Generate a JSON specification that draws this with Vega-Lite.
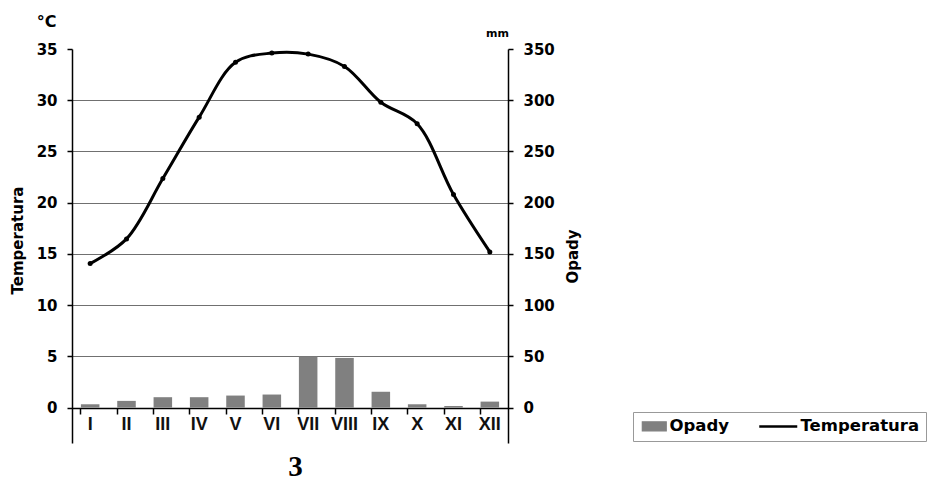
{
  "$schema": "https://vega.github.io/schema/vega-lite/v6.json",
  "autosize": "none",
  "padding": {"left": 72, "top": 49, "right": 419, "bottom": 38},
  "width": 436,
  "height": 394,
  "background": "white",
  "config": {
    "view": {"stroke": null},
    "font": "DejaVu Sans"
  },
  "data": {
    "values": [
      {"miesiac": "I", "temp": 14.06, "opady": 3.3},
      {"miesiac": "II", "temp": 16.47, "opady": 6.6},
      {"miesiac": "III", "temp": 22.36, "opady": 10.2},
      {"miesiac": "IV", "temp": 28.35, "opady": 10.2},
      {"miesiac": "V", "temp": 33.7, "opady": 11.8},
      {"miesiac": "VI", "temp": 34.6, "opady": 12.8},
      {"miesiac": "VII", "temp": 34.5, "opady": 50.0},
      {"miesiac": "VIII", "temp": 33.3, "opady": 48.5},
      {"miesiac": "IX", "temp": 29.8, "opady": 15.5},
      {"miesiac": "X", "temp": 27.7, "opady": 3.3},
      {"miesiac": "XI", "temp": 20.8, "opady": 1.6},
      {"miesiac": "XII", "temp": 15.2, "opady": 5.9}
    ]
  },
  "encoding": {
    "x": {
      "field": "miesiac",
      "type": "nominal",
      "sort": null,
      "scale": {"paddingInner": 0.49, "paddingOuter": 0.245},
      "axis": {
        "orient": "bottom",
        "offset": -35,
        "labelAngle": 0,
        "labelFont": "Liberation Sans",
        "labelFontSize": 18,
        "labelFontWeight": "bold",
        "labelColor": "#111111",
        "labelPadding": 1,
        "labelBaseline": "top",
        "bandPosition": 0,
        "tickSize": 6,
        "tickColor": "black",
        "tickWidth": 1.5,
        "domainColor": "black",
        "domainWidth": 1.5,
        "title": "3",
        "titleFont": "Liberation Serif",
        "titleFontSize": 29,
        "titleFontWeight": "bold",
        "titleColor": "black",
        "titleX": 223,
        "titleY": 73,
        "titleAlign": "center",
        "titleBaseline": "bottom"
      }
    }
  },
  "layer": [
    {
      "mark": {"type": "bar", "color": "#808080"},
      "encoding": {
        "y": {
          "field": "opady",
          "type": "quantitative",
          "scale": {"domain": [-34.5, 350], "nice": false, "zero": false},
          "axis": {
            "orient": "right",
            "values": [0, 50, 100, 150, 200, 250, 300, 350],
            "grid": false,
            "labelFont": "DejaVu Sans",
            "labelFontSize": 15,
            "labelFontWeight": "bold",
            "labelColor": "black",
            "labelPadding": 10,
            "tickSize": 5,
            "tickColor": "black",
            "tickWidth": 1.5,
            "domainColor": "black",
            "domainWidth": 1.5,
            "title": "Opady",
            "titleFont": "DejaVu Sans",
            "titleFontSize": 15,
            "titleFontWeight": "bold",
            "titleColor": "black",
            "titleAngle": 270,
            "titleX": 64,
            "titleY": 207,
            "titleAlign": "center",
            "titleBaseline": "middle"
          }
        },
        "color": {
          "datum": "Opady",
          "type": "nominal",
          "scale": {"domain": ["Opady", "Temperatura"], "range": ["#808080", "#000000"]},
          "legend": {
            "orient": "none",
            "legendX": 561,
            "legendY": 363,
            "direction": "horizontal",
            "title": null,
            "padding": 6,
            "strokeColor": "#999999",
            "fillColor": "white",
            "labelFont": "DejaVu Sans",
            "labelFontSize": 16.5,
            "labelFontWeight": "bold",
            "labelColor": "black",
            "labelOffset": 14,
            "columnPadding": 24,
            "symbolSize": 1444,
            "encode": {
              "symbols": {
                "update": {
                  "shape": {"signal": "datum.value == 'Opady' ? 'M-0.26,-0.24H1V0.24H-0.26Z' : 'M-1,0H1'"},
                  "fill": {"signal": "datum.value == 'Opady' ? '#808080' : 'transparent'"},
                  "stroke": {"signal": "datum.value == 'Opady' ? '#333333' : '#000000'"},
                  "strokeWidth": {"signal": "datum.value == 'Opady' ? 1.2 : 2.5"},
                  "opacity": {"value": 1}
                }
              }
            }
          }
        }
      }
    },
    {
      "mark": {
        "type": "line",
        "interpolate": "catmull-rom",
        "strokeWidth": 3,
        "point": {"filled": true, "size": 25, "color": "black"}
      },
      "encoding": {
        "y": {
          "field": "temp",
          "type": "quantitative",
          "scale": {"domain": [-3.45, 35], "nice": false, "zero": false},
          "axis": {
            "orient": "left",
            "values": [0, 5, 10, 15, 20, 25, 30, 35],
            "grid": true,
            "gridColor": "#707070",
            "gridWidth": 1.2,
            "gridOpacity": {"condition": {"test": "datum.value == 35 || datum.value == 0", "value": 0}, "value": 1},
            "labelFont": "DejaVu Sans",
            "labelFontSize": 15,
            "labelFontWeight": "bold",
            "labelColor": "black",
            "labelPadding": 10,
            "tickSize": 5,
            "tickColor": "black",
            "tickWidth": 1.5,
            "domainColor": "black",
            "domainWidth": 1.5,
            "title": "Temperatura",
            "titleFont": "DejaVu Sans",
            "titleFontSize": 15,
            "titleFontWeight": "bold",
            "titleColor": "black",
            "titleAngle": 270,
            "titleX": -55,
            "titleY": 191,
            "titleAlign": "center",
            "titleBaseline": "middle"
          }
        },
        "color": {"datum": "Temperatura", "type": "nominal"}
      }
    },
    {
      "mark": {"type": "point", "opacity": 0},
      "encoding": {
        "y": {
          "field": "temp",
          "type": "quantitative",
          "scale": {"domain": [-3.45, 35], "nice": false, "zero": false},
          "axis": {
            "orient": "left",
            "labels": false,
            "ticks": false,
            "domain": false,
            "grid": false,
            "title": "°C",
            "titleFont": "DejaVu Sans",
            "titleFontSize": 16,
            "titleFontWeight": "bold",
            "titleColor": "black",
            "titleAngle": 0,
            "titleX": -26,
            "titleY": -28,
            "titleAlign": "center",
            "titleBaseline": "middle"
          }
        }
      }
    },
    {
      "mark": {"type": "point", "opacity": 0},
      "encoding": {
        "y": {
          "field": "opady",
          "type": "quantitative",
          "scale": {"domain": [-34.5, 350], "nice": false, "zero": false},
          "axis": {
            "orient": "right",
            "labels": false,
            "ticks": false,
            "domain": false,
            "grid": false,
            "title": "mm",
            "titleFont": "DejaVu Sans",
            "titleFontSize": 11,
            "titleFontWeight": "bold",
            "titleColor": "black",
            "titleAngle": 0,
            "titleX": -11,
            "titleY": -16,
            "titleAlign": "center",
            "titleBaseline": "middle"
          }
        }
      }
    }
  ],
  "resolve": {"scale": {"y": "independent", "color": "shared"}}
}
